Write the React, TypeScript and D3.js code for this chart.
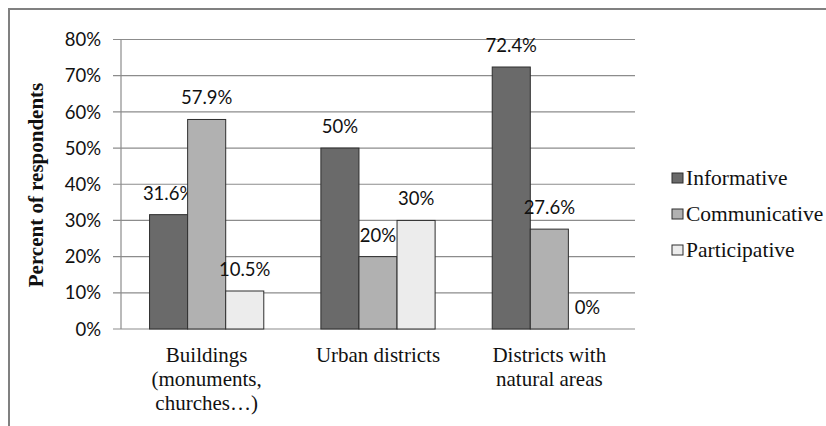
import * as d3 from "d3";

const categories = [
  ["Buildings", "(monuments,", "churches…)"],
  ["Urban districts"],
  ["Districts with", "natural areas"],
];
const seriesNames = ["Informative", "Communicative", "Participative"];
const informative = [31.6, 50, 72.4];
const communicative = [57.9, 20, 27.6];
const participative = [10.5, 30, 0];
const valueLabels = [
  ["31.6%", "50%", "72.4%"],
  ["57.9%", "20%", "27.6%"],
  ["10.5%", "30%", "0%"],
];
const yTicks = [0, 10, 20, 30, 40, 50, 60, 70, 80];

const fills = ["#6a6a6a", "#b1b1b1", "#ececec"];
const sansFont = "Lato, 'Open Sans', sans-serif";
const serifFont = "'Liberation Serif', 'Times New Roman', serif";

export default function App() {
  const width = 826;
  const height = 426;
  const plot = { left: 121, right: 635, top: 39.5, bottom: 329 };
  const series = [informative, communicative, participative];

  const x0 = d3
    .scaleBand<number>()
    .domain(categories.map((_, i) => i))
    .range([plot.left, plot.right])
    .paddingInner(1.5 / 4.5)
    .paddingOuter(0.75 / 4.5);
  const x1 = d3
    .scaleBand<number>()
    .domain(seriesNames.map((_, i) => i))
    .range([0, x0.bandwidth()]);
  const y = d3.scaleLinear().domain([0, 80]).range([plot.bottom, plot.top]);

  return (
    <div style={{ position: "absolute", left: 0, top: 0 }}>
      <svg width={width} height={height} style={{ display: "block", background: "#fff" }}>
        {/* frame: top and left only */}
        <line x1={9} x2={width} y1={9} y2={9} stroke="#808080" strokeWidth={2} />
        <line x1={9} x2={9} y1={8} y2={height} stroke="#808080" strokeWidth={2} />

        {/* gridlines + y labels */}
        {yTicks.map((t) => (
          <g key={t}>
            <line
              x1={plot.left - 8}
              x2={plot.right}
              y1={y(t)}
              y2={y(t)}
              stroke="#8c8c8c"
              strokeWidth={1.2}
            />
            <text
              x={101}
              y={y(t)}
              dy="0.36em"
              textAnchor="end"
              fontFamily={sansFont}
              fontSize={18.5}
              fill="#111"
            >
              {t}%
            </text>
          </g>
        ))}
        <line
          x1={plot.left}
          x2={plot.left}
          y1={plot.top}
          y2={plot.bottom}
          stroke="#8c8c8c"
          strokeWidth={1.2}
        />

        {/* bars */}
        {series.map((vals, s) =>
          vals.map((v, c) => {
            const bx = (x0(c) ?? 0) + (x1(s) ?? 0);
            const by = y(v);
            return (
              <g key={`${s}-${c}`}>
                {v > 0 && (
                  <rect
                    x={bx}
                    y={by}
                    width={x1.bandwidth()}
                    height={plot.bottom - by}
                    fill={fills[s]}
                    stroke="#2e2e2e"
                    strokeWidth={1}
                  />
                )}
                <text
                  x={bx + x1.bandwidth() / 2}
                  y={by - 15}
                  textAnchor="middle"
                  fontFamily={sansFont}
                  fontSize={18.5}
                  fill="#111"
                >
                  {valueLabels[s][c]}
                </text>
              </g>
            );
          })
        )}

        {/* category labels */}
        {categories.map((lines, c) => (
          <text
            key={c}
            x={(x0(c) ?? 0) + x0.bandwidth() / 2}
            y={362}
            textAnchor="middle"
            fontFamily={serifFont}
            fontSize={21}
            fill="#111"
          >
            {lines.map((l, i) => (
              <tspan key={i} x={(x0(c) ?? 0) + x0.bandwidth() / 2} dy={i === 0 ? 0 : 24}>
                {l}
              </tspan>
            ))}
          </text>
        ))}

        {/* y axis title */}
        <text
          transform="translate(43,185) rotate(-90)"
          textAnchor="middle"
          fontFamily={serifFont}
          fontWeight="bold"
          fontSize={21}
          fill="#111"
        >
          Percent of respondents
        </text>

        {/* legend */}
        {seriesNames.map((name, s) => (
          <g key={name} transform={`translate(672,${173 + s * 36})`}>
            <rect x={0} y={0} width={11} height={10} fill={fills[s]} stroke="#2e2e2e" strokeWidth={1} />
            <text
              x={14}
              y={12}
              fontFamily={serifFont}
              fontSize={21.5}
              fill="#111"
            >
              {name}
            </text>
          </g>
        ))}
      </svg>
    </div>
  );
}
